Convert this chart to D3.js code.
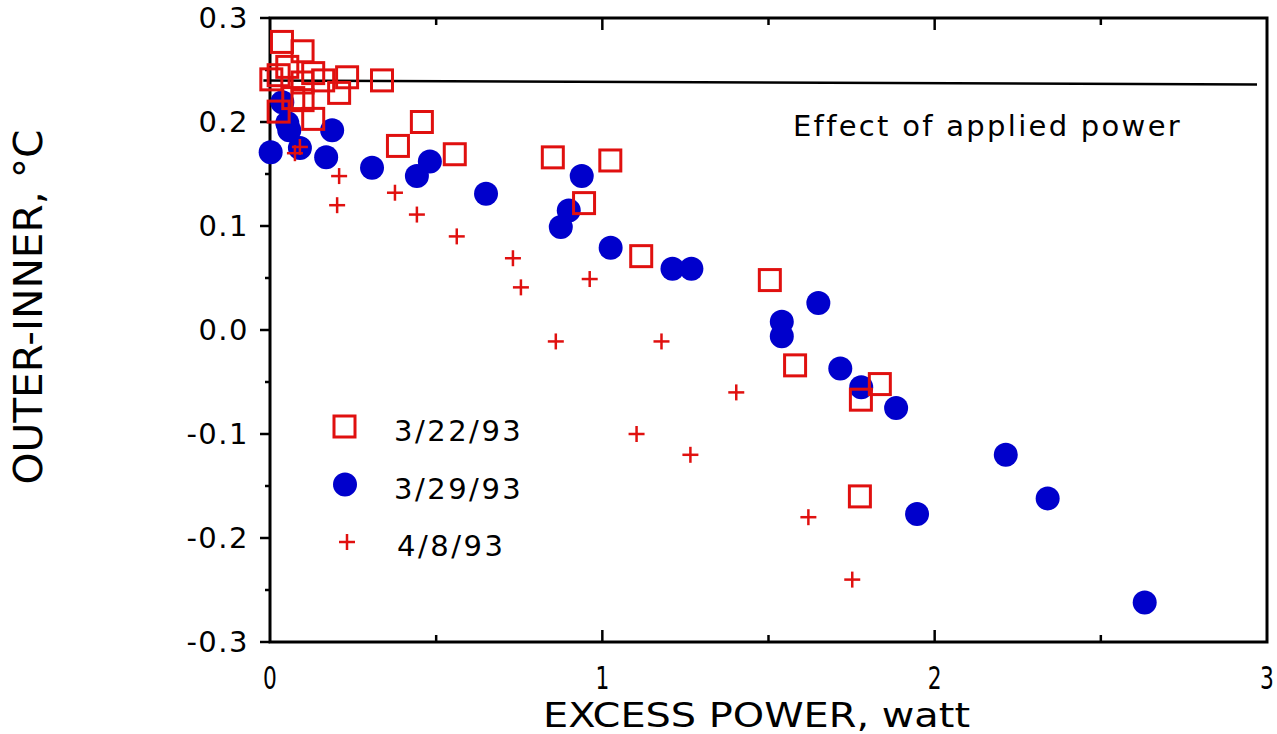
<!DOCTYPE html>
<html>
<head>
<meta charset="utf-8">
<script src="https://cdn.jsdelivr.net/npm/d3@7"></script>
<style>
  body { margin: 0; background: #fff; }
  svg { display: block; }
</style>
</head>
<body>
<div id="chart"></div>
<script>
// 3/22/93 - open red squares
const seriesA = [
    [0.036, 0.277], [0.098, 0.268], [0.004, 0.241], [0.026, 0.245], [0.052, 0.253],
    [0.130, 0.247], [0.160, 0.240], [0.232, 0.243], [0.337, 0.240], [0.098, 0.238],
    [0.208, 0.228], [0.098, 0.221], [0.070, 0.223], [0.026, 0.210], [0.130, 0.203],
    [0.457, 0.200], [0.385, 0.177], [0.556, 0.169], [0.851, 0.166], [1.024, 0.163],
    [0.945, 0.122], [1.117, 0.071], [1.504, 0.048], [1.580, -0.034], [1.778, -0.067],
    [1.835, -0.052], [1.775, -0.160]
];

// 3/29/93 - filled blue circles
const seriesB = [
    [0.037, 0.219], [0.052, 0.199], [0.058, 0.192], [0.002, 0.171], [0.090, 0.175],
    [0.187, 0.192], [0.169, 0.166], [0.307, 0.156], [0.442, 0.148], [0.481, 0.162],
    [0.650, 0.131], [0.938, 0.148], [0.899, 0.115], [0.875, 0.099], [1.025, 0.079],
    [1.211, 0.059], [1.268, 0.059], [1.650, 0.026], [1.540, 0.008], [1.540, -0.006],
    [1.716, -0.037], [1.779, -0.055], [1.884, -0.075], [2.214, -0.120], [1.947, -0.177],
    [2.340, -0.162], [2.632, -0.262]
];

// 4/8/93 - red plus signs
const seriesC = [
    [0.090, 0.176], [0.075, 0.170], [0.208, 0.148], [0.376, 0.132], [0.202, 0.120],
    [0.442, 0.111], [0.562, 0.090], [0.731, 0.069], [0.755, 0.041], [0.962, 0.049],
    [0.860, -0.011], [1.178, -0.011], [1.103, -0.100], [1.265, -0.120], [1.403, -0.060],
    [1.620, -0.180], [1.752, -0.240]
];

// applied power reference line
const powerLine = [[-0.02, 0.240], [2.97, 0.236]];

const xTicks = [0, 1, 2, 3];
const xMinor = [0.5, 1.5, 2.5];
const yTicks = [-0.3, -0.2, -0.1, 0.0, 0.1, 0.2, 0.3];
const yMinor = [-0.25, -0.15, -0.05, 0.05, 0.15, 0.25];

const legendItems = [
    { label: '3/22/93', type: 'square' },
    { label: '3/29/93', type: 'circle' },
    { label: '4/8/93', type: 'plus' }
];

const width = 1277;
const height = 734;
const margin = { top: 18, right: 10, bottom: 92, left: 270 };
const red = '#e0100f';
const blue = '#0000cc';
const font = '"DejaVu Sans", Verdana, sans-serif';

const svg = d3.select('#chart').append('svg')
    .attr('width', width)
    .attr('height', height);

const x = d3.scaleLinear()
    .domain([0, 3])
    .range([margin.left, width - margin.right]);

const y = d3.scaleLinear()
    .domain([-0.3, 0.3])
    .range([height - margin.bottom, margin.top]);

// hyphen minus like the original, not the unicode minus
const fmtY = d => d.toFixed(1);

// Frame
svg.append('rect')
    .attr('x', x(0))
    .attr('y', y(0.3))
    .attr('width', x(3) - x(0))
    .attr('height', y(-0.3) - y(0.3))
    .attr('fill', 'none')
    .attr('stroke', '#000')
    .attr('stroke-width', 3);

// Y ticks (outward)
svg.selectAll('.ytick')
    .data(yTicks)
    .enter()
    .append('line')
    .attr('x1', x(0) - 10)
    .attr('x2', x(0))
    .attr('y1', d => y(d))
    .attr('y2', d => y(d))
    .attr('stroke', '#000')
    .attr('stroke-width', 2.5);

svg.selectAll('.yminor')
    .data(yMinor)
    .enter()
    .append('line')
    .attr('x1', x(0) - 5)
    .attr('x2', x(0))
    .attr('y1', d => y(d))
    .attr('y2', d => y(d))
    .attr('stroke', '#000')
    .attr('stroke-width', 2.5);

svg.selectAll('.ylabel')
    .data(yTicks)
    .enter()
    .append('text')
    .attr('x', x(0) - 21)
    .attr('y', d => y(d) + 10)
    .attr('text-anchor', 'end')
    .style('font-family', font)
    .style('font-size', '29px')
    .style('letter-spacing', '1.5px')
    .text(fmtY);

// X ticks (inward) on bottom and top
[y(-0.3), y(0.3)].forEach((base, i) => {
    const dir = i === 0 ? -1 : 1;
    svg.selectAll('.xtick' + i)
        .data(xTicks.slice(1, 3))
        .enter()
        .append('line')
        .attr('x1', d => x(d))
        .attr('x2', d => x(d))
        .attr('y1', base)
        .attr('y2', base + dir * 12)
        .attr('stroke', '#000')
        .attr('stroke-width', 2.5);

    svg.selectAll('.xminor' + i)
        .data(xMinor)
        .enter()
        .append('line')
        .attr('x1', d => x(d))
        .attr('x2', d => x(d))
        .attr('y1', base)
        .attr('y2', base + dir * 7)
        .attr('stroke', '#000')
        .attr('stroke-width', 2.5);
});

svg.selectAll('.xlabel')
    .data(xTicks)
    .enter()
    .append('text')
    .attr('x', d => x(d))
    .attr('y', y(-0.3) + 47)
    .attr('text-anchor', 'middle')
    .style('font-family', font)
    .style('font-size', '32px')
    .attr('transform', d => `translate(${x(d)},0) scale(0.68,1) translate(${-x(d)},0)`)
    .text(d => d);

// Axis titles
svg.append('text')
    .attr('x', 543)
    .attr('y', 727)
    .attr('textLength', 427)
    .attr('lengthAdjust', 'spacingAndGlyphs')
    .style('font-family', font)
    .style('font-size', '34px')
    .text('EXCESS POWER, watt');

svg.append('text')
    .attr('text-anchor', 'middle')
    .attr('transform', `translate(42,${y(0.022)}) rotate(-90)`)
    .attr('textLength', 355)
    .attr('lengthAdjust', 'spacingAndGlyphs')
    .style('font-family', font)
    .style('font-size', '39px')
    .text('OUTER-INNER, °C');

// Applied power line
svg.append('path')
    .datum(powerLine)
    .attr('d', d3.line().x(d => x(d[0])).y(d => y(d[1])))
    .attr('stroke', '#000')
    .attr('stroke-width', 2.5)
    .attr('fill', 'none');

svg.append('text')
    .attr('x', 793)
    .attr('y', y(0.1865))
    .style('font-family', font)
    .style('font-size', '29px')
    .style('letter-spacing', '2.3px')
    .text('Effect of applied power');

// Markers
const sq = 21;
function drawSquare(sel) {
    sel.append('rect')
        .attr('x', d => x(d[0]) - sq / 2)
        .attr('y', d => y(d[1]) - sq / 2)
        .attr('width', sq)
        .attr('height', sq)
        .attr('fill', 'none')
        .attr('stroke', red)
        .attr('stroke-width', 3);
}

function drawPlus(sel) {
    const g = sel.append('g')
        .attr('transform', d => `translate(${x(d[0])},${y(d[1])})`);
    g.append('line').attr('x1', -8).attr('x2', 8).attr('y1', 0).attr('y2', 0)
        .attr('stroke', red).attr('stroke-width', 2.5);
    g.append('line').attr('x1', 0).attr('x2', 0).attr('y1', -8).attr('y2', 8)
        .attr('stroke', red).attr('stroke-width', 2.5);
}

svg.selectAll('.ptB')
    .data(seriesB)
    .enter()
    .append('circle')
    .attr('cx', d => x(d[0]))
    .attr('cy', d => y(d[1]))
    .attr('r', 12)
    .attr('fill', blue);

drawPlus(svg.selectAll('.ptC').data(seriesC).enter());
drawSquare(svg.selectAll('.ptA').data(seriesA).enter());

// Legend
const legend = svg.append('g').attr('transform', 'translate(345,427)');
legendItems.forEach((item, i) => {
    const g = legend.append('g').attr('transform', `translate(0,${i * 57.5})`);
    if (item.type === 'square') {
        g.append('rect').attr('x', -11).attr('y', -11).attr('width', 21).attr('height', 21)
            .attr('fill', 'none').attr('stroke', red).attr('stroke-width', 3);
    } else if (item.type === 'circle') {
        g.append('circle').attr('r', 12).attr('fill', blue);
    } else {
        g.append('line').attr('x1', -6).attr('x2', 10).attr('y1', 0).attr('y2', 0)
            .attr('stroke', red).attr('stroke-width', 2.5);
        g.append('line').attr('x1', 2).attr('x2', 2).attr('y1', -8).attr('y2', 8)
            .attr('stroke', red).attr('stroke-width', 2.5);
    }
    g.append('text')
        .attr('x', item.type === 'plus' ? 52 : 49)
        .attr('y', 14)
        .style('font-family', font)
        .style('font-size', '29px')
        .style('letter-spacing', '2.5px')
        .text(item.label);
});
</script>
</body>
</html>
